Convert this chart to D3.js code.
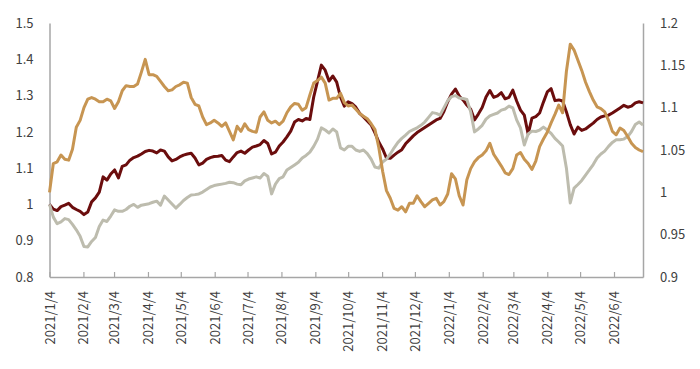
<!DOCTYPE html>
<html>
<head>
<meta charset="utf-8">
<script src="https://cdn.jsdelivr.net/npm/d3@7"></script>
<style>
  body { margin: 0; background: #fff; }
  svg text { font-family: "Noto Sans CJK SC", "Noto Sans", sans-serif; fill: #404040; }
</style>
</head>
<body>
<div id="chart"></div>
<script>
// readings taken twice a week (every 3.5 days) starting 2021/1/4
const startDate = "2021/1/4";
const stepHours = 84;

// left axis
const maroonSeries = [
  1.000, 0.987, 0.983, 0.994, 0.998, 1.003, 0.992, 0.986, 0.981, 0.972,
  0.979, 1.007, 1.018, 1.034, 1.076, 1.067, 1.084, 1.095, 1.073, 1.105,
  1.109, 1.122, 1.129, 1.133, 1.139, 1.146, 1.149, 1.147, 1.142, 1.150,
  1.147, 1.131, 1.120, 1.124, 1.131, 1.136, 1.139, 1.141, 1.128, 1.109,
  1.114, 1.124, 1.129, 1.132, 1.133, 1.135, 1.122, 1.118, 1.131, 1.143,
  1.147, 1.141, 1.150, 1.158, 1.161, 1.165, 1.176, 1.168, 1.139, 1.144,
  1.161, 1.172, 1.186, 1.202, 1.227, 1.234, 1.230, 1.237, 1.234, 1.296,
  1.340, 1.384, 1.370, 1.340, 1.354, 1.337, 1.296, 1.271, 1.283, 1.278,
  1.268, 1.251, 1.241, 1.230, 1.219, 1.197, 1.172, 1.153, 1.128, 1.127,
  1.136, 1.144, 1.151, 1.167, 1.178, 1.189, 1.198, 1.205, 1.212, 1.219,
  1.226, 1.233, 1.237, 1.256, 1.283, 1.304, 1.318, 1.299, 1.288, 1.274,
  1.262, 1.233, 1.249, 1.267, 1.296, 1.314, 1.295, 1.299, 1.308, 1.291,
  1.295, 1.315, 1.285, 1.260, 1.246, 1.194, 1.238, 1.242, 1.252, 1.282,
  1.310, 1.319, 1.286, 1.288, 1.285, 1.255, 1.220, 1.194, 1.213, 1.204,
  1.208, 1.216, 1.224, 1.234, 1.241, 1.244, 1.246, 1.252, 1.259, 1.266,
  1.273, 1.268, 1.271, 1.280, 1.283, 1.280
];

// left axis
const greySeries = [
  1.000, 0.965, 0.947, 0.952, 0.961, 0.958, 0.945, 0.930, 0.912, 0.884,
  0.883, 0.898, 0.909, 0.939, 0.957, 0.953, 0.968, 0.985, 0.981, 0.981,
  0.986, 0.995, 1.000, 0.992, 0.998, 1.000, 1.002, 1.006, 1.009, 0.998,
  1.023, 1.012, 1.001, 0.990, 1.000, 1.011, 1.019, 1.026, 1.027, 1.029,
  1.034, 1.041, 1.048, 1.052, 1.054, 1.056, 1.058, 1.061, 1.060, 1.056,
  1.054, 1.065, 1.070, 1.073, 1.076, 1.073, 1.085, 1.078, 1.029, 1.056,
  1.071, 1.076, 1.095, 1.102, 1.109, 1.116, 1.128, 1.135, 1.144, 1.160,
  1.180, 1.211, 1.205, 1.197, 1.208, 1.200, 1.156, 1.150, 1.160, 1.160,
  1.150, 1.146, 1.150, 1.140, 1.125, 1.103, 1.100, 1.117, 1.125, 1.139,
  1.156, 1.171, 1.182, 1.191, 1.201, 1.206, 1.211, 1.218, 1.227, 1.240,
  1.253, 1.251, 1.246, 1.266, 1.286, 1.297, 1.300, 1.293, 1.292, 1.289,
  1.255, 1.200, 1.208, 1.218, 1.235, 1.244, 1.248, 1.252, 1.260, 1.263,
  1.271, 1.266, 1.233, 1.211, 1.164, 1.194, 1.202, 1.201, 1.205, 1.213,
  1.205, 1.196, 1.182, 1.172, 1.161, 1.100, 1.004, 1.045, 1.055, 1.066,
  1.081, 1.095, 1.110, 1.128, 1.139, 1.147, 1.160, 1.171, 1.178, 1.178,
  1.180, 1.187, 1.201, 1.220, 1.227, 1.219
];

// right axis
const tanSeries = [
  1.000, 1.034, 1.036, 1.044, 1.039, 1.038, 1.051, 1.077, 1.085, 1.100,
  1.110, 1.112, 1.110, 1.107, 1.107, 1.110, 1.108, 1.099, 1.107, 1.120,
  1.126, 1.125, 1.125, 1.128, 1.142, 1.157, 1.139, 1.139, 1.137, 1.131,
  1.125, 1.120, 1.121, 1.125, 1.127, 1.130, 1.129, 1.112, 1.104, 1.102,
  1.089, 1.080, 1.082, 1.085, 1.082, 1.078, 1.082, 1.072, 1.062, 1.078,
  1.072, 1.081, 1.074, 1.072, 1.071, 1.089, 1.095, 1.085, 1.082, 1.084,
  1.080, 1.084, 1.094, 1.101, 1.105, 1.104, 1.097, 1.100, 1.115, 1.129,
  1.132, 1.136, 1.129, 1.109, 1.111, 1.111, 1.117, 1.106, 1.102, 1.103,
  1.098, 1.093, 1.090, 1.087, 1.081, 1.074, 1.053, 1.025, 1.002, 0.993,
  0.981, 0.979, 0.983, 0.977, 0.987, 0.987, 0.996, 0.989, 0.983, 0.987,
  0.991, 0.993, 0.985, 0.989, 0.998, 1.022, 1.016, 0.996, 0.985, 1.015,
  1.028, 1.036, 1.041, 1.044, 1.049, 1.058, 1.045, 1.038, 1.031, 1.023,
  1.021, 1.028, 1.044, 1.047, 1.039, 1.034, 1.027, 1.037, 1.054, 1.063,
  1.071, 1.082, 1.092, 1.103, 1.094, 1.143, 1.175, 1.168, 1.156, 1.144,
  1.130, 1.119, 1.109, 1.101, 1.099, 1.095, 1.085, 1.072, 1.068, 1.076,
  1.073, 1.066, 1.058, 1.053, 1.050, 1.048
];

const xTickLabels = [
  "2021/1/4", "2021/2/4", "2021/3/4", "2021/4/4", "2021/5/4", "2021/6/4",
  "2021/7/4", "2021/8/4", "2021/9/4", "2021/10/4", "2021/11/4", "2021/12/4",
  "2022/1/4", "2022/2/4", "2022/3/4", "2022/4/4", "2022/5/4", "2022/6/4"
];
const leftTicks = [0.8, 0.9, 1, 1.1, 1.2, 1.3, 1.4, 1.5];
const rightTicks = [0.9, 0.95, 1, 1.05, 1.1, 1.15, 1.2];

const parse = d3.timeParse("%Y/%m/%d");
const fmt = d3.timeFormat("%Y/%-m/%-d");
const start = parse(startDate);
const dates = maroonSeries.map((_, i) => d3.timeHour.offset(start, stepHours * i));

const width = 700, height = 369;
const plotLeft = 49.5, plotRight = 643, plotTop = 23, plotBottom = 277;

const svg = d3.select("#chart").append("svg")
  .attr("width", width)
  .attr("height", height);

const x = d3.scaleTime()
  .domain(d3.extent(dates))
  .range([plotLeft, plotRight]);
const yLeft = d3.scaleLinear().domain([0.8, 1.5]).range([plotBottom, plotTop]);
const yRight = d3.scaleLinear().domain([0.9, 1.2]).range([plotBottom, plotTop]);

const axisColor = "#a6a6a6";

// left axis
const gl = svg.append("g")
  .attr("transform", `translate(${plotLeft},0)`)
  .call(d3.axisLeft(yLeft).tickValues(leftTicks).tickSize(0).tickPadding(16).tickFormat(d3.format("~g")));
gl.select(".domain").attr("stroke", axisColor).attr("stroke-width", 1.5);
gl.selectAll("text").style("font-size", "13px");

// right axis
const gr = svg.append("g")
  .attr("transform", `translate(${plotRight},0)`)
  .call(d3.axisRight(yRight).tickValues(rightTicks).tickSize(0).tickPadding(17).tickFormat(d3.format("~g")));
gr.select(".domain").attr("stroke", axisColor).attr("stroke-width", 1.5);
gr.selectAll("text").style("font-size", "13px");

// bottom axis: short ticks pointing up, labels turned vertical
const gx = svg.append("g")
  .attr("transform", `translate(0,${plotBottom})`)
  .call(d3.axisBottom(x).tickValues(xTickLabels.map(parse)).tickSizeInner(-5).tickSizeOuter(0).tickFormat(fmt));
gx.select(".domain").attr("stroke", axisColor).attr("stroke-width", 1.5);
gx.selectAll(".tick line").attr("stroke", axisColor).attr("stroke-width", 1.2);
gx.selectAll("text")
  .style("font-size", "13px")
  .attr("text-anchor", "end")
  .attr("transform", "rotate(-90)")
  .attr("x", -14)
  .attr("y", 0)
  .attr("dy", "0.35em");

const series = [
  { values: maroonSeries, y: yLeft, color: "#6b0d0d" },
  { values: greySeries, y: yLeft, color: "#bdbcae" },
  { values: tanSeries, y: yRight, color: "#c79552" }
];

series.forEach(s => {
  const line = d3.line()
    .x((d, i) => x(dates[i]))
    .y(d => s.y(d));
  svg.append("path")
    .datum(s.values)
    .attr("fill", "none")
    .attr("stroke", s.color)
    .attr("stroke-width", 3)
    .attr("stroke-linejoin", "round")
    .attr("d", line);
});
</script>
</body>
</html>
